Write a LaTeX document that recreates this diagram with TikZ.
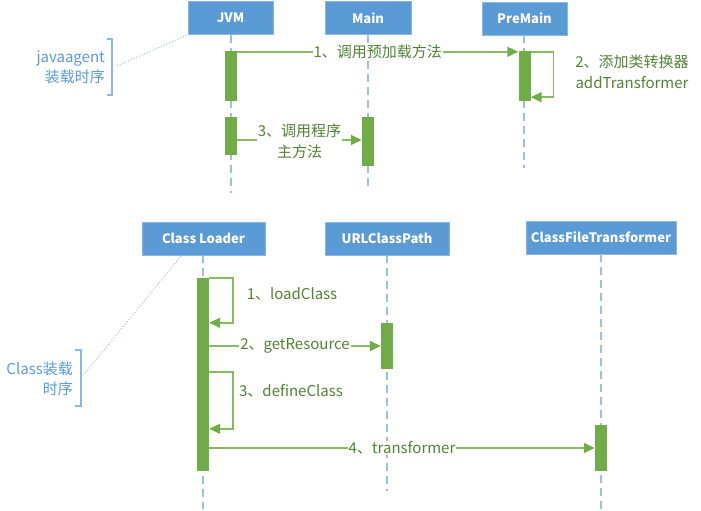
\documentclass[tikz,border=0pt]{standalone}
\usepackage{fontspec}
\setmainfont{Noto Sans CJK SC}
\usetikzlibrary{arrows.meta}

\definecolor{boxblue}{HTML}{5B9BD5}
\definecolor{boxedge}{HTML}{8DB6E2}
\definecolor{lifeblue}{HTML}{9BBFE5}
\definecolor{actgreen}{HTML}{70AD47}
\definecolor{msggreen}{HTML}{86BB62}
\definecolor{lblgreen}{HTML}{548235}
\definecolor{noteblue}{HTML}{5B9BD5}

\tikzset{
  obj/.style={fill=boxblue, draw=boxedge, text=white, inner sep=0pt,
    minimum height=33pt, font=\bfseries\fontsize{13}{15}\selectfont},
  act/.style={fill=actgreen, inner sep=0pt, minimum width=12pt},
  life/.style={draw=lifeblue, line width=1.5pt, dash pattern=on 8pt off 5pt},
  msg/.style={draw=msggreen, line width=1.5pt,
    -{Triangle[length=11pt, width=10pt, color=actgreen]}},
  lbl/.style={fill=white, text=lblgreen, inner sep=1pt, align=center,
    font=\fontsize{15}{21}\selectfont},
  note/.style={text=noteblue, inner sep=0pt, align=right, anchor=east,
    font=\fontsize{15}{20}\selectfont},
  brk/.style={draw=boxedge, line width=1.2pt},
  hint/.style={draw=lifeblue, line width=1pt, dotted},
}

\begin{document}
\begin{tikzpicture}[x=1pt, y=-1pt]
    \useasboundingbox (0,0) rectangle (701,511);

    % Objects of the javaagent sequence
    \node[obj, minimum width=85pt] (jvm) at (230.5, 18) {JVM};
    \node[obj, minimum width=86pt] (main) at (368, 18) {Main};
    \node[obj, minimum width=85pt] (premain) at (524.5, 18.5) {PreMain};

    % Objects of the class loading sequence
    \node[obj, minimum width=123pt] (loader) at (203.5, 238.5) {Class Loader};
    \node[obj, minimum width=124pt] (urlcp) at (387, 238.5) {URLClassPath};
    \node[obj, minimum width=150pt] (cft) at (601, 237.5) {ClassFileTransformer};

    % Lifelines
    \coordinate (jvmend) at (231, 193);
    \coordinate (mainend) at (368, 187);
    \coordinate (premainend) at (524, 168);
    \coordinate (loaderend) at (203, 509);
    \coordinate (urlcpend) at (387, 491);
    \coordinate (cftend) at (601, 510);
    \draw[life] (jvm.south -| jvmend) -- (jvmend);
    \draw[life] (main.south -| mainend) -- (mainend);
    \draw[life] (premain.south -| premainend) -- (premainend);
    \draw[life] (loader.south -| loaderend) -- (loaderend);
    \draw[life] (urlcp.south -| urlcpend) -- (urlcpend);
    \draw[life] (cft.south -| cftend) -- (cftend);

    % Activation bars
    \node[act, minimum height=50pt] (jvmbar1) at (231, 76) {};
    \node[act, minimum height=38pt] (jvmbar2) at (231, 136) {};
    \node[act, minimum height=49pt] (mainbar) at (368, 141.5) {};
    \node[act, minimum height=50pt] (prebar) at (524.5, 76) {};
    \node[act, minimum height=193pt] (loaderbar) at (203, 374.5) {};
    \node[act, minimum height=46pt] (urlbar) at (387, 346) {};
    \node[act, minimum height=46pt] (cftbar) at (601, 448) {};

    % Messages of the javaagent sequence
    \draw[msg] ([yshift=-1pt]jvmbar1.north east) -- ([yshift=-1pt]prebar.north west)
        node[lbl, midway] (m1) {1、调用预加载方法};
    \draw[msg] ([yshift=-1pt]prebar.north east) -- ++(23,0) |- ([yshift=4pt]prebar.south east);
    \node[lbl] (m2) at (632, 72) {2、添加类转换器\\addTransformer};
    \draw[msg] (jvmbar2.east |- 0,140) -- (mainbar.west |- 0,140)
        node[lbl, midway, yshift=-1pt] (m3) {3、调用程序\\主方法};

    % Messages of the class loading sequence
    \draw[msg] (loaderbar.north east) -- ++(24,0) |- ([yshift=-45pt]loaderbar.north east);
    \node[lbl] (c1) at (292, 294) {1、loadClass};
    \draw[msg] (loaderbar.east |- urlbar.west) -- (urlbar.west)
        node[lbl, midway] (c2) {2、getResource};
    \draw[msg] ([yshift=-94pt]loaderbar.north east) -- ++(24,0) |- ([yshift=-151pt]loaderbar.north east);
    \node[lbl] (c3) at (291, 391) {3、defineClass};
    \draw[msg] (loaderbar.east |- cftbar.west) -- (cftbar.west)
        node[lbl, midway] (c4) {4、transformer};

    % Side notes
    \node[note] (note1) at (105, 67) {javaagent\\装载时序};
    \draw[brk] (107,39) -- (112,39) -- (112,95) -- (107,95);
    \coordinate (hook1) at (117, 66);
    \draw[hint] (hook1) -- (jvm.south west);
    \node[note] (note2) at (73, 379) {Class装载\\时序};
    \draw[brk] (75,350) -- (81,350) -- (81,406) -- (75,406);
    \coordinate (hook2) at (85, 373);
    \draw[hint] (hook2) -- ([xshift=40pt]loader.south west);
\end{tikzpicture}
\end{document}
